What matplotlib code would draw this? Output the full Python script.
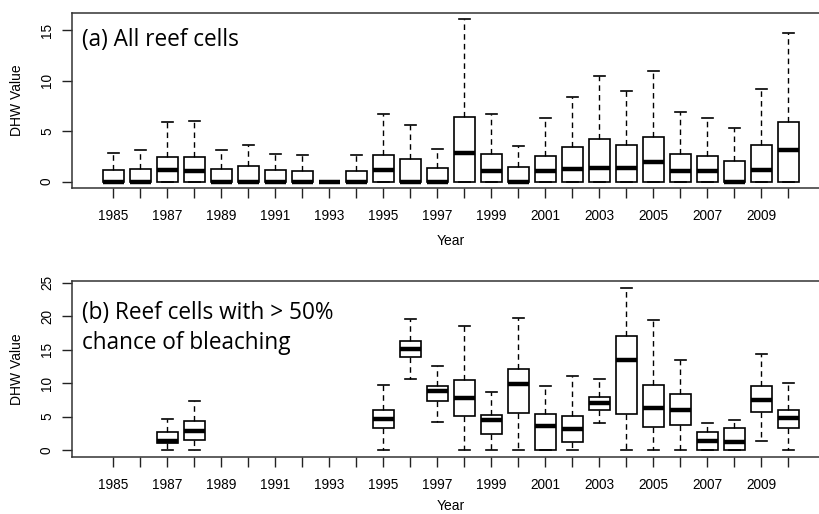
import matplotlib
matplotlib.use("Agg")
import matplotlib.pyplot as plt

years = list(range(1985, 2011))

# Panel (a): all reef cells
top_lo  = [0] * 26
top_q1  = [0] * 26
top_med = [0, 0, 1.13, 1.06, 0, 0, 0, 0, 0, 0, 1.16, 0, 0, 2.87, 1.09, 0,
           1.03, 1.23, 1.39, 1.33, 1.98, 1.09, 1.06, 0, 1.19, 3.14]
top_q3  = [1.16, 1.26, 2.42, 2.45, 1.26, 1.52, 1.13, 1.06, 0, 1.06, 2.68, 2.25, 1.33,
           6.44, 2.72, 1.43, 2.55, 3.41, 4.20, 3.61, 4.43, 2.78, 2.52, 2.08, 3.67, 5.89]
top_hi  = [2.87, 3.11, 5.92, 6.05, 3.14, 3.67, 2.78, 2.61, 0, 2.68, 6.68, 5.62, 3.27,
           16.12, 6.74, 3.54, 6.31, 8.43, 10.48, 8.99, 11.00, 6.91, 6.28, 5.29, 9.16, 14.74]

# Panel (b): reef cells with > 50% chance of bleaching (None = no data)
N = None
bot_lo  = [N, N, 0, 0, N, N, N, N, N, N, 0, 10.66, 4.23, 0, 0, 0,
           0, 0, 4.04, 0, 0, 0, 0, 0, 1.39, 0]
bot_q1  = [N, N, 1.0, 1.49, N, N, N, N, N, N, 3.34, 13.95, 7.37, 5.03, 2.39, 5.58,
           0, 1.2, 5.93, 5.38, 3.39, 3.69, 0, 0, 5.73, 3.34]
bot_med = [N, N, 1.35, 2.89, N, N, N, N, N, N, 4.58, 15.1, 8.82, 7.72, 4.43, 9.82,
           3.63, 3.09, 6.97, 13.45, 6.28, 6.03, 1.30, 1.25, 7.52, 4.74]
bot_q3  = [N, N, 2.69, 4.29, N, N, N, N, N, N, 5.93, 16.34, 9.57, 10.46, 5.28, 12.15,
           5.43, 5.13, 7.87, 17.04, 9.77, 8.32, 2.64, 3.29, 9.61, 6.03]
bot_hi  = [N, N, 4.63, 7.32, N, N, N, N, N, N, 9.72, 19.58, 12.6, 18.58, 8.67, 19.73,
           9.61, 11.02, 10.66, 24.27, 19.38, 13.4, 4.04, 4.53, 14.39, 9.97]

title_a = "(a) All reef cells"
title_b = "(b) Reef cells with > 50%\nchance of bleaching"
xlabel = "Year"
ylabel = "DHW Value"

W, H = 820, 514
fig = plt.figure(figsize=(W / 100, H / 100), dpi=100)

tickfont = dict(family=["Liberation Sans", "DejaVu Sans"], size=9.8)
labfont = dict(family=["Liberation Sans", "DejaVu Sans"], size=10)
titlefont = dict(family=["Open Sans", "DejaVu Sans"], size=16.3)


def make_panel(rect, lo, q1, med, q3, hi, ylim, yticks, xlab_y):
    ax = fig.add_axes(rect)
    stats, pos = [], []
    for i in range(len(years)):
        if med[i] is None:
            continue
        stats.append(dict(med=med[i], q1=q1[i], q3=q3[i], whislo=lo[i],
                          whishi=hi[i], fliers=[]))
        pos.append(i)
    ax.bxp(stats, positions=pos, widths=0.8, capwidths=0.4, showfliers=False,
           patch_artist=True,
           boxprops=dict(facecolor="white", edgecolor="black", linewidth=1.2),
           medianprops=dict(color="black", linewidth=3.2, solid_capstyle="butt"),
           whiskerprops=dict(color="black", linewidth=1.0, linestyle=(0, (4, 3))),
           capprops=dict(color="black", linewidth=1.2))
    ax.set_xlim(-1.53, 26.54)
    ax.set_ylim(*ylim)
    ax.set_xticks(range(len(years)))
    ax.set_xticklabels([str(y) if y % 2 == 1 else "" for y in years], **tickfont)
    ax.set_yticks(yticks)
    ax.set_yticklabels([str(t) for t in yticks], rotation=90, va="center", **tickfont)
    ax.tick_params(axis="both", direction="out", length=7, width=1, color="#222222")
    ax.tick_params(axis="x", pad=8)
    ax.tick_params(axis="y", pad=6)
    for s in ax.spines.values():
        s.set_color("#333333")
        s.set_linewidth(1.1)
    ax.set_xlabel(xlabel, **labfont)
    ax.set_ylabel(ylabel, **labfont)
    ax.xaxis.set_label_coords(0.5, xlab_y)
    ax.yaxis.set_label_coords(-0.063, 0.5)
    return ax


def frac(l, t, r, b):
    return [l / W, 1 - b / H, (r - l) / W, (b - t) / H]


ax1 = make_panel(frac(72, 12.7, 830, 188), top_lo, top_q1, top_med, top_q3, top_hi,
                 (-0.62, 16.74), [0, 5, 10, 15], -0.265)
ax2 = make_panel(frac(72, 281, 830, 456.7), bot_lo, bot_q1, bot_med, bot_q3, bot_hi,
                 (-1.0, 25.26), [0, 5, 10, 15, 20, 25], -0.24)

fig.text(82 / W, 1 - 46 / H, title_a, ha="left", va="baseline", **titlefont)
fig.text(82 / W, 1 - 319 / H, title_b.split("\n")[0], ha="left", va="baseline", **titlefont)
fig.text(82 / W, 1 - 349 / H, title_b.split("\n")[1], ha="left", va="baseline", **titlefont)

fig.savefig("out.png", dpi=100)
